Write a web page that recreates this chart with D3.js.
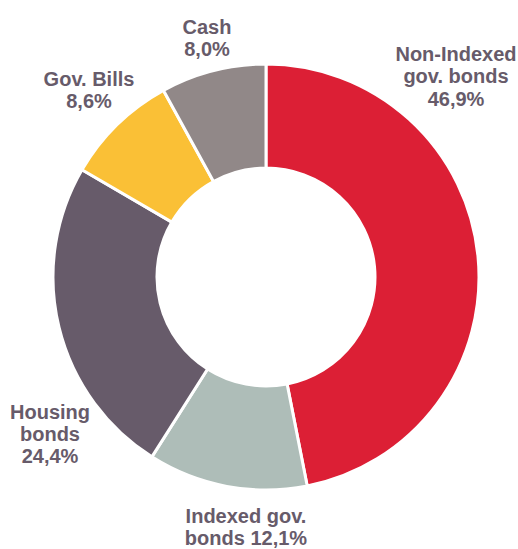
<!DOCTYPE html>
<html>
<head>
<meta charset="utf-8">
<script src="https://cdn.jsdelivr.net/npm/d3@7"></script>
<style>
  html, body { margin: 0; padding: 0; background: #fff; }
  svg { display: block; }
  text { font-family: "Liberation Sans", Arial, sans-serif; font-weight: bold; fill: #675b6a; }
</style>
</head>
<body>
<svg id="chart" width="518" height="549"></svg>
<script>
// Portfolio composition, clockwise from 12 o'clock
const categories = ["Non-Indexed gov. bonds", "Indexed gov. bonds", "Housing bonds", "Gov. Bills", "Cash"];
const shares = [46.9, 12.1, 24.4, 8.6, 8.0];
const labelLines = [
  ["Non-Indexed", "gov. bonds", "46,9%"],
  ["Indexed gov.", "bonds 12,1%"],
  ["Housing", "bonds", "24,4%"],
  ["Gov. Bills", "8,6%"],
  ["Cash", "8,0%"]
];
const colors = ["#dc1f35", "#aebdb8", "#675b6a", "#fac036", "#918888"];

// Label anchors (x centre, first baseline)
const labelAnchor = [
  { x: 456, y: 61 },
  { x: 246, y: 522.5 },
  { x: 50, y: 418.5 },
  { x: 89, y: 85.5 },
  { x: 207, y: 33.5 }
];

const svg = d3.select("#chart");
const cx = 266, cy = 277, outerR = 213, innerR = 109;

const data = categories.map((c, i) => ({ name: c, value: shares[i], i }));

const pie = d3.pie().value(d => d.value).sort(null);
const arc = d3.arc().innerRadius(innerR).outerRadius(outerR);

const g = svg.append("g").attr("transform", `translate(${cx},${cy})`);
g.selectAll("path")
  .data(pie(data))
  .join("path")
  .attr("d", arc)
  .attr("fill", d => colors[d.data.i])
  .attr("stroke", "#fff")
  .attr("stroke-width", 3)
  .attr("stroke-linejoin", "miter");

const lineH = 22.3;
const labels = svg.append("g");
data.forEach(d => {
  const t = labels.append("text")
    .attr("text-anchor", "middle")
    .attr("font-size", 20);
  labelLines[d.i].forEach((line, k) => {
    t.append("tspan")
      .attr("x", labelAnchor[d.i].x)
      .attr("y", labelAnchor[d.i].y + k * lineH)
      .text(line);
  });
});
</script>
</body>
</html>
